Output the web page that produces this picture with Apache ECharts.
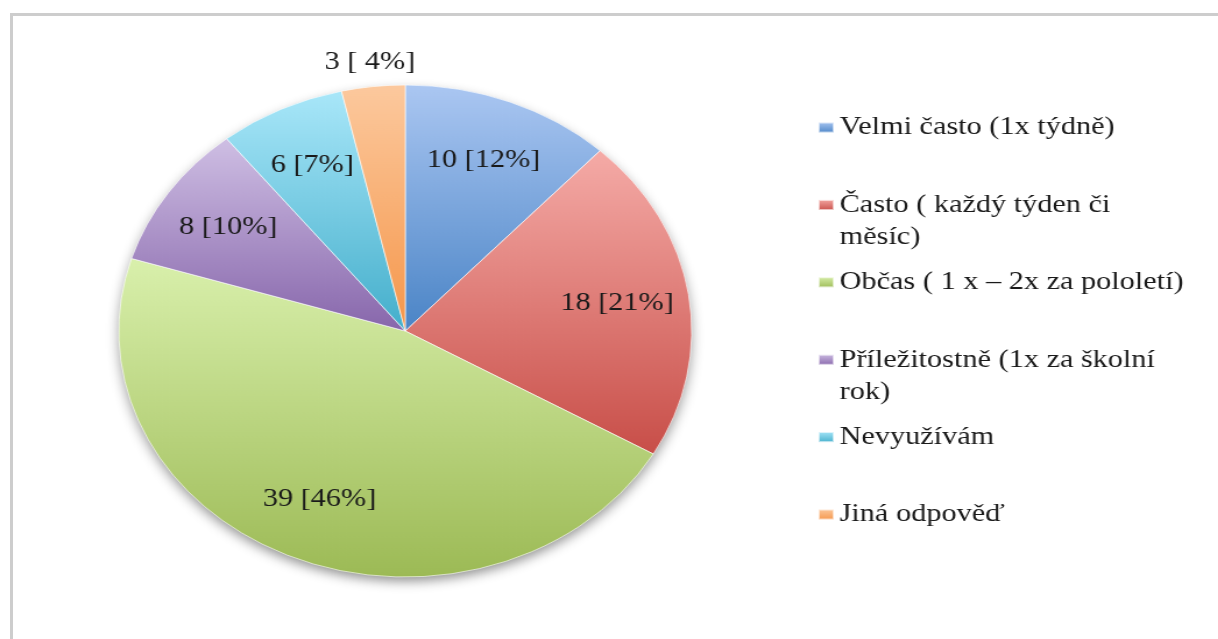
<!DOCTYPE html>
<html>
<head>
<meta charset="utf-8">
<script src="https://cdn.jsdelivr.net/npm/echarts@6/dist/echarts.min.js"></script>
<style>
html, body { margin: 0; padding: 0; background: #fff; overflow: hidden; }
#frame { position: absolute; left: 10px; top: 13px; width: 1240px; height: 660px;
  border-left: 3px solid #cdcdcd; border-top: 3px solid #cdcdcd; }
/* the original picture is stretched sideways, so the whole chart is too */
#main { position: absolute; left: 0; top: 0; width: 1046px; height: 639px;
  transform: scaleX(1.1645); transform-origin: 0 0; }
</style>
</head>
<body>
<div id="frame"></div>
<div id="main"></div>
<script>
var names = [
  'Velmi často (1x týdně)',
  'Často ( každý týden či měsíc)',
  'Občas ( 1 x – 2x za pololetí)',
  'Příležitostně (1x za školní rok)',
  'Nevyužívám',
  'Jiná odpověď'
];
// legend text with the line breaks of the picture
var legendText = [
  'Velmi často (1x týdně)',
  'Často ( každý týden či\nměsíc)',
  'Občas ( 1 x – 2x za pololetí)',
  'Příležitostně (1x za školní\nrok)',
  'Nevyužívám',
  'Jiná odpověď'
];
var counts = [10, 18, 39, 8, 6, 3];
var colorTop = ['#abc7f2', '#f5aba7', '#d9f0ac', '#cfbfe4', '#a9e7f9', '#fcc99e'];
var colorBottom = ['#4a84c6', '#c84e48', '#9cba55', '#8766ab', '#43aecb', '#f5964a'];

var serif = 'Liberation Serif, Times New Roman, Tinos, serif';
var total = counts.reduce(function (a, b) { return a + b; }, 0);

function pct(v) { return Math.round(v / total * 100); }

function grad(i) {
  return new echarts.graphic.LinearGradient(0, 0, 0, 1, [
    { offset: 0, color: colorTop[i] },
    { offset: 1, color: colorBottom[i] }
  ]);
}

var center = [348, 331];
var R = 246;
var lineH = 32;

var pieData = counts.map(function (v, i) {
  return { name: names[i], value: v, itemStyle: { color: grad(i) } };
});

// labels inside the slices (all but the last, small one)
var innerLabelData = counts.map(function (v, i) {
  return { name: names[i], value: v, label: { show: i < counts.length - 1 } };
});
// label above the small orange slice
var outerLabelData = counts.map(function (v, i) {
  return { name: names[i], value: v, label: { show: i === counts.length - 1 } };
});

var labelStyle = {
  position: 'inside',
  fontFamily: serif,
  fontSize: 26,
  color: '#1a1a1a'
};

// one legend per entry, so the rows keep an even step as in the picture;
// wrapped entries get an empty first line so the marker sits by the first line
var legends = names.map(function (n, i) {
  var wrapped = legendText[i].indexOf('\n') >= 0;
  var text = wrapped ? '\n' + legendText[i] : legendText[i];
  var nLines = text.split('\n').length;
  return {
    data: [n],
    orient: 'vertical',
    left: 702,
    top: 127.5 + i * 77.4 - nLines * lineH / 2,
    padding: 0,
    icon: 'rect',
    itemWidth: 13,
    itemHeight: 10,
    selectedMode: false,
    formatter: function () { return text; },
    textStyle: {
      fontFamily: serif,
      fontSize: 26,
      color: '#1a1a1a',
      lineHeight: lineH
    }
  };
});

var myChart = echarts.init(document.getElementById('main'));

var option = {
  animation: false,
  backgroundColor: 'transparent',
  legend: legends,
  series: [
    {
      // soft shadow under the whole pie
      type: 'pie',
      silent: true,
      center: center,
      radius: R - 1,
      label: { show: false },
      labelLine: { show: false },
      itemStyle: {
        color: '#fff',
        shadowColor: 'rgba(0,0,0,0.45)',
        shadowBlur: 12,
        shadowOffsetY: 5
      },
      data: [{ name: '', value: total }]
    },
    {
      type: 'pie',
      center: center,
      radius: R,
      startAngle: 90,
      clockwise: true,
      label: { show: false },
      labelLine: { show: false },
      emphasis: { disabled: true },
      itemStyle: { borderColor: 'rgba(255,255,255,0.6)', borderWidth: 1 },
      data: pieData
    },
    {
      type: 'pie',
      silent: true,
      center: center,
      radius: [116, R],
      startAngle: 90,
      clockwise: true,
      itemStyle: { color: 'rgba(0,0,0,0)' },
      label: Object.assign({
        formatter: function (p) { return p.value + ' [' + pct(p.value) + '%]'; }
      }, labelStyle),
      labelLine: { show: false },
      emphasis: { disabled: true },
      data: innerLabelData
    },
    {
      type: 'pie',
      silent: true,
      center: center,
      radius: [R, R + 44],
      startAngle: 90,
      clockwise: true,
      itemStyle: { color: 'rgba(0,0,0,0)' },
      label: Object.assign({
        formatter: function (p) { return p.value + ' [ ' + pct(p.value) + '%]'; }
      }, labelStyle),
      labelLine: { show: false },
      emphasis: { disabled: true },
      data: outerLabelData
    }
  ]
};

myChart.setOption(option);
</script>
</body>
</html>
